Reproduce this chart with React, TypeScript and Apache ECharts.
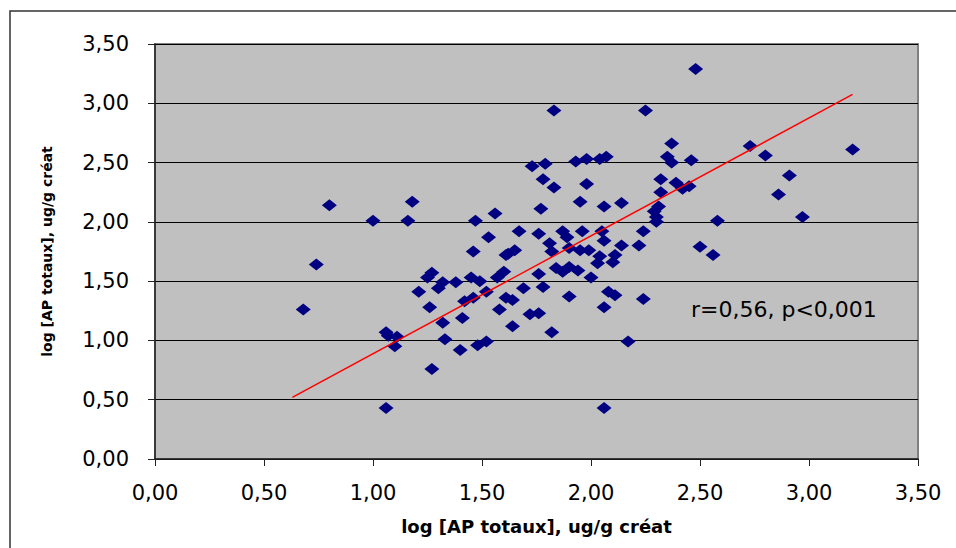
import React, { useEffect, useRef } from "react";
import * as echarts from "echarts";

// log [AP totaux] (x) vs log [AP totaux] (y), paired by index
const pointsX = [
  0.68, 0.74, 0.80, 1.00, 1.06, 1.07, 1.11, 1.10, 1.06, 1.16,
  1.18, 1.21, 1.26, 1.25, 1.27, 1.30, 1.32, 1.32, 1.33, 1.38,
  1.40, 1.41, 1.42, 1.46, 1.45, 1.49, 1.46, 1.47, 1.48, 1.52,
  1.52, 1.53, 1.56, 1.57, 1.58, 1.60, 1.61, 1.64, 1.62, 1.65,
  1.61, 1.64, 1.67, 1.69, 1.72, 1.73, 1.76, 1.76, 1.76, 1.77,
  1.78, 1.79, 1.78, 1.81, 1.82, 1.82, 1.83, 1.83, 1.84, 1.87,
  1.87, 1.89, 1.90, 1.90, 1.90, 1.93, 1.94, 1.95, 1.96, 1.95,
  1.98, 1.98, 1.99, 2.00, 2.03, 2.04, 2.06, 2.05, 2.04, 2.07,
  2.06, 2.06, 2.08, 2.06, 2.11, 2.10, 2.11, 2.14, 2.14, 2.17,
  2.22, 2.24, 2.24, 2.25, 2.30, 2.30, 2.29, 2.31, 2.32, 2.32,
  2.35, 2.37, 2.37, 2.39, 2.42, 2.45, 2.46, 2.48, 2.56,
  2.58, 2.73, 2.80, 2.86, 2.91, 2.97, 3.20, 1.27, 2.50,
];
const pointsY = [
  1.26, 1.64, 2.14, 2.01, 1.07, 1.04, 1.03, 0.95, 0.43, 2.01,
  2.17, 1.41, 1.28, 1.53, 1.57, 1.44, 1.49, 1.15, 1.01, 1.49,
  0.92, 1.19, 1.33, 1.36, 1.53, 1.50, 1.75, 2.01, 0.96, 0.99,
  1.41, 1.87, 2.07, 1.53, 1.26, 1.58, 1.36, 1.34, 1.73, 1.76,
  1.72, 1.12, 1.92, 1.44, 1.22, 2.47, 1.90, 1.23, 1.56, 2.11,
  2.36, 2.49, 1.45, 1.82, 1.75, 1.07, 2.29, 2.94, 1.61, 1.58,
  1.92, 1.87, 1.62, 1.78, 1.37, 2.51, 1.59, 1.76, 1.92, 2.17,
  2.53, 2.32, 1.76, 1.53, 1.65, 1.71, 1.84, 1.92, 2.53, 2.55,
  2.13, 1.28, 1.41, 0.43, 1.38, 1.66, 1.72, 2.16, 1.80, 0.99,
  1.80, 1.92, 1.35, 2.94, 2.00, 2.04, 2.09, 2.13, 2.25, 2.36,
  2.55, 2.66, 2.50, 2.33, 2.28, 2.30, 2.52, 3.29, 1.72,
  2.01, 2.64, 2.56, 2.23, 2.39, 2.04, 2.61, 0.76, 1.79,
];

// regression line end points
const trendX = [0.63, 3.2];
const trendY = [0.52, 3.075];

const axisTicks = [0, 0.5, 1, 1.5, 2, 2.5, 3, 3.5];
const axisTitle = "log [AP totaux], ug/g créat";
const statText = "r=0,56, p<0,001";

const fmt = (v: number) => v.toFixed(2).replace(".", ",");

export default function App() {
  const ref = useRef<HTMLDivElement>(null);
  useEffect(() => {
    if (!ref.current) return;
    const chart = echarts.init(ref.current, null, { renderer: "svg" });
    const scatterData = pointsX.map((x, i) => [x, pointsY[i]]);
    const trendData = trendX.map((x, i) => [x, trendY[i]]);
    const tickFont = {
      fontFamily: "DejaVu Sans",
      fontSize: 21,
      color: "#000",
    };
    chart.setOption({
      animation: false,
      backgroundColor: "#fff",
      grid: {
        left: 155,
        right: 38,
        top: 44,
        bottom: 89,
        show: true,
        backgroundColor: "#c0c0c0",
        borderColor: "#808080",
        borderWidth: 2,
      },
      graphic: [
        {
          type: "rect",
          shape: { x: 10, y: 11, width: 980, height: 580 },
          style: { fill: "none", stroke: "#333", lineWidth: 1.5 },
          z: -10,
        },
        {
          type: "text",
          x: 691,
          y: 309,
          style: {
            text: statText,
            fontFamily: "DejaVu Sans",
            fontSize: 22,
            fill: "#000",
            verticalAlign: "middle",
          },
        },
      ],
      xAxis: {
        type: "value",
        min: axisTicks[0],
        max: axisTicks[axisTicks.length - 1],
        interval: 0.5,
        name: axisTitle,
        nameLocation: "middle",
        nameGap: 58,
        nameTextStyle: {
          fontFamily: "DejaVu Sans",
          fontWeight: "bold",
          fontSize: 18,
          color: "#000",
        },
        axisLine: { show: true, lineStyle: { color: "#222", width: 1.5 } },
        axisTick: { show: true, length: 7, lineStyle: { color: "#222" } },
        axisLabel: { ...tickFont, margin: 23, formatter: fmt },
        splitLine: { show: false },
      },
      yAxis: {
        type: "value",
        min: axisTicks[0],
        max: axisTicks[axisTicks.length - 1],
        interval: 0.5,
        name: axisTitle,
        nameLocation: "middle",
        nameGap: 101,
        nameRotate: 90,
        nameTextStyle: {
          fontFamily: "DejaVu Sans",
          fontWeight: "bold",
          fontSize: 14,
          color: "#000",
        },
        axisLine: { show: true, lineStyle: { color: "#222", width: 1.5 } },
        axisTick: { show: true, length: 7, lineStyle: { color: "#222" } },
        axisLabel: { ...tickFont, margin: 26, formatter: fmt },
        splitLine: { show: true, lineStyle: { color: "#000", width: 1 } },
      },
      series: [
        {
          type: "scatter",
          data: scatterData,
          symbol: "diamond",
          symbolSize: [15, 12],
          itemStyle: { color: "#000080", opacity: 1 },
          z: 3,
        },
        {
          type: "line",
          data: trendData,
          showSymbol: false,
          symbol: "none",
          lineStyle: { color: "#ff0000", width: 1.5 },
          z: 4,
        },
      ],
    });
    return () => chart.dispose();
  }, []);
  return (
    <div
      ref={ref}
      style={{ position: "fixed", left: 0, top: 0, width: 956, height: 548 }}
    />
  );
}
